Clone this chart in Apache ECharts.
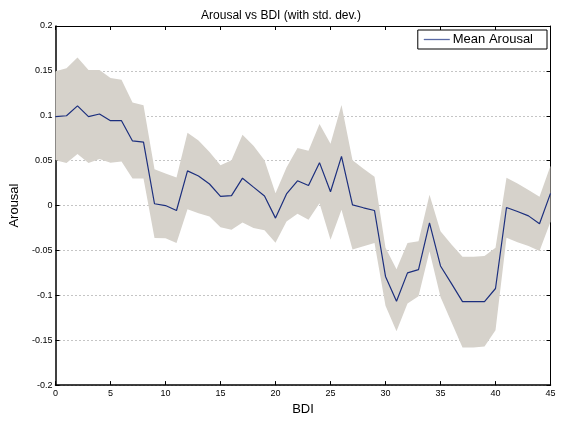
<!DOCTYPE html>
<html>
<head>
<meta charset="utf-8">
<script src="https://cdn.jsdelivr.net/npm/echarts@6/dist/echarts.min.js"></script>
<style>
html,body{margin:0;padding:0;background:#fff;}
#chart{width:562px;height:421px;}
</style>
</head>
<body>
<div id="chart"></div>
<script>
var bdi = [0,1,2,3,4,5,6,7,8,9,10,11,12,13,14,15,16,17,18,19,20,21,22,23,24,25,26,27,28,29,30,31,32,33,34,35,36,37,38,39,40,41,42,43,44,45];
var meanArousal = [0.099,0.100,0.111,0.099,0.102,0.0945,0.0945,0.072,0.0706,0.002,0.000,-0.0055,0.0386,0.033,0.024,0.0103,0.011,0.0305,0.0205,0.0106,-0.014,0.013,0.0276,0.0224,0.0478,0.0154,0.0548,0.0007,-0.0025,-0.0055,-0.079,-0.1067,-0.075,-0.0714,-0.0192,-0.0673,-0.087,-0.107,-0.107,-0.107,-0.0924,-0.0022,-0.0066,-0.0115,-0.0203,0.0136];
var upperBound = [0.1497,0.153,0.165,0.151,0.151,0.142,0.140,0.1148,0.1118,0.0404,0.0357,0.0312,0.081,0.0724,0.0596,0.0449,0.0504,0.079,0.0666,0.0504,0.0136,0.0423,0.064,0.061,0.0908,0.0687,0.112,0.0504,0.041,0.032,-0.0471,-0.071,-0.0416,-0.0397,0.012,-0.0287,-0.0435,-0.057,-0.057,-0.0563,-0.047,0.031,0.0246,0.0172,0.0099,0.0442];
var lowerBound = [0.0504,0.0475,0.0574,0.0475,0.0519,0.0478,0.0492,0.0301,0.0301,-0.0361,-0.0364,-0.0416,-0.0041,-0.0085,-0.0122,-0.0243,-0.0269,-0.0188,-0.025,-0.0276,-0.0413,-0.0177,-0.009,-0.0159,0.0025,-0.038,-0.0048,-0.049,-0.0453,-0.0416,-0.1115,-0.140,-0.109,-0.101,-0.0508,-0.102,-0.13,-0.158,-0.158,-0.157,-0.139,-0.036,-0.041,-0.045,-0.0505,-0.018];
var xTicks = [0,5,10,15,20,25,30,35,40,45];
var yTicks = [-0.2,-0.15,-0.1,-0.05,0,0.05,0.1,0.15,0.2];

var FONT = 'Liberation Sans, Arial, Helvetica, sans-serif';
var chart = echarts.init(document.getElementById('chart'), null, {renderer:'canvas'});

var meanData = bdi.map(function(x,i){return [x, meanArousal[i]];});
var bandData = bdi.map(function(x,i){return [x, lowerBound[i], upperBound[i]];});

var axisLineStyle = {color:'#000', width:1};
var option = {
  animation:false,
  backgroundColor:'#fff',
  title:{
    text:'Arousal vs BDI (with std. dev.)',
    left:'center', top:5,
    textStyle:{fontFamily:FONT, fontSize:12, fontWeight:'normal', color:'#000'}
  },
  legend:{
    data:[{name:'Mean Arousal', icon:'rect'}],
    right:15, top:30,
    orient:'vertical',
    backgroundColor:'#fff',
    borderColor:'#000', borderWidth:1,
    padding:[2,14,2,6],
    itemWidth:26, itemHeight:1.3, itemGap:0,
    itemStyle:{color:'#5a6aa5', borderWidth:0},
    textStyle:{fontFamily:FONT, fontSize:13, color:'#000', padding:[1,0,0,-2], lineHeight:14}
  },
  grid:{left:55.5, right:11.5, top:26, bottom:32, containLabel:false},
  xAxis:[{
    type:'value', min:0, max:45, interval:5,
    name:'BDI', nameLocation:'middle', nameGap:16,
    nameTextStyle:{fontFamily:FONT, fontSize:13, color:'#000'},
    axisLine:{show:true, onZero:false, lineStyle:{color:'#000', width:1.5}},
    axisTick:{show:true, inside:true, length:4, lineStyle:axisLineStyle},
    axisLabel:{fontFamily:FONT, fontSize:9, color:'#000', margin:4},
    splitLine:{show:false}
  },{
    type:'value', min:0, max:45, interval:5, position:'top',
    axisLine:{show:true, onZero:false, lineStyle:axisLineStyle},
    axisTick:{show:true, inside:true, length:4, lineStyle:axisLineStyle},
    axisLabel:{show:false}, splitLine:{show:false}
  }],
  yAxis:[{
    type:'value', min:-0.2, max:0.2, interval:0.05,
    name:'Arousal', nameLocation:'middle', nameGap:29, nameRotate:90,
    nameTextStyle:{fontFamily:FONT, fontSize:13, color:'#000'},
    axisLine:{show:true, onZero:false, lineStyle:{color:'#000', width:1.5}},
    axisTick:{show:true, inside:true, length:4, lineStyle:axisLineStyle},
    axisLabel:{fontFamily:FONT, fontSize:9, color:'#000', margin:3,
      formatter:function(v){return String(+v.toFixed(2));}},
    splitLine:{show:true, lineStyle:{color:'#8a8a8a', width:1, type:[1,3]}}
  },{
    type:'value', min:-0.2, max:0.2, interval:0.05, position:'right',
    axisLine:{show:true, onZero:false, lineStyle:axisLineStyle},
    axisTick:{show:true, inside:true, length:4, lineStyle:axisLineStyle},
    axisLabel:{show:false}, splitLine:{show:false}
  }],
  series:[{
    name:'std',
    type:'custom',
    xAxisIndex:0, yAxisIndex:0,
    silent:true,
    z:1,
    data:[0],
    renderItem:function(params, api){
      var pts = [];
      for (var i=0;i<bandData.length;i++) pts.push(api.coord([bandData[i][0], bandData[i][2]]));
      for (var j=bandData.length-1;j>=0;j--) pts.push(api.coord([bandData[j][0], bandData[j][1]]));
      return {type:'polygon', shape:{points:pts}, style:{fill:'#d6d2cb', stroke:null}};
    }
  },{
    name:'Mean Arousal',
    type:'line',
    xAxisIndex:0, yAxisIndex:0,
    data:meanData,
    symbol:'none',
    z:3,
    lineStyle:{color:'#1c2f7e', width:1.2},
    itemStyle:{color:'#1c2f7e'}
  }]
};
chart.setOption(option);
</script>
</body>
</html>
